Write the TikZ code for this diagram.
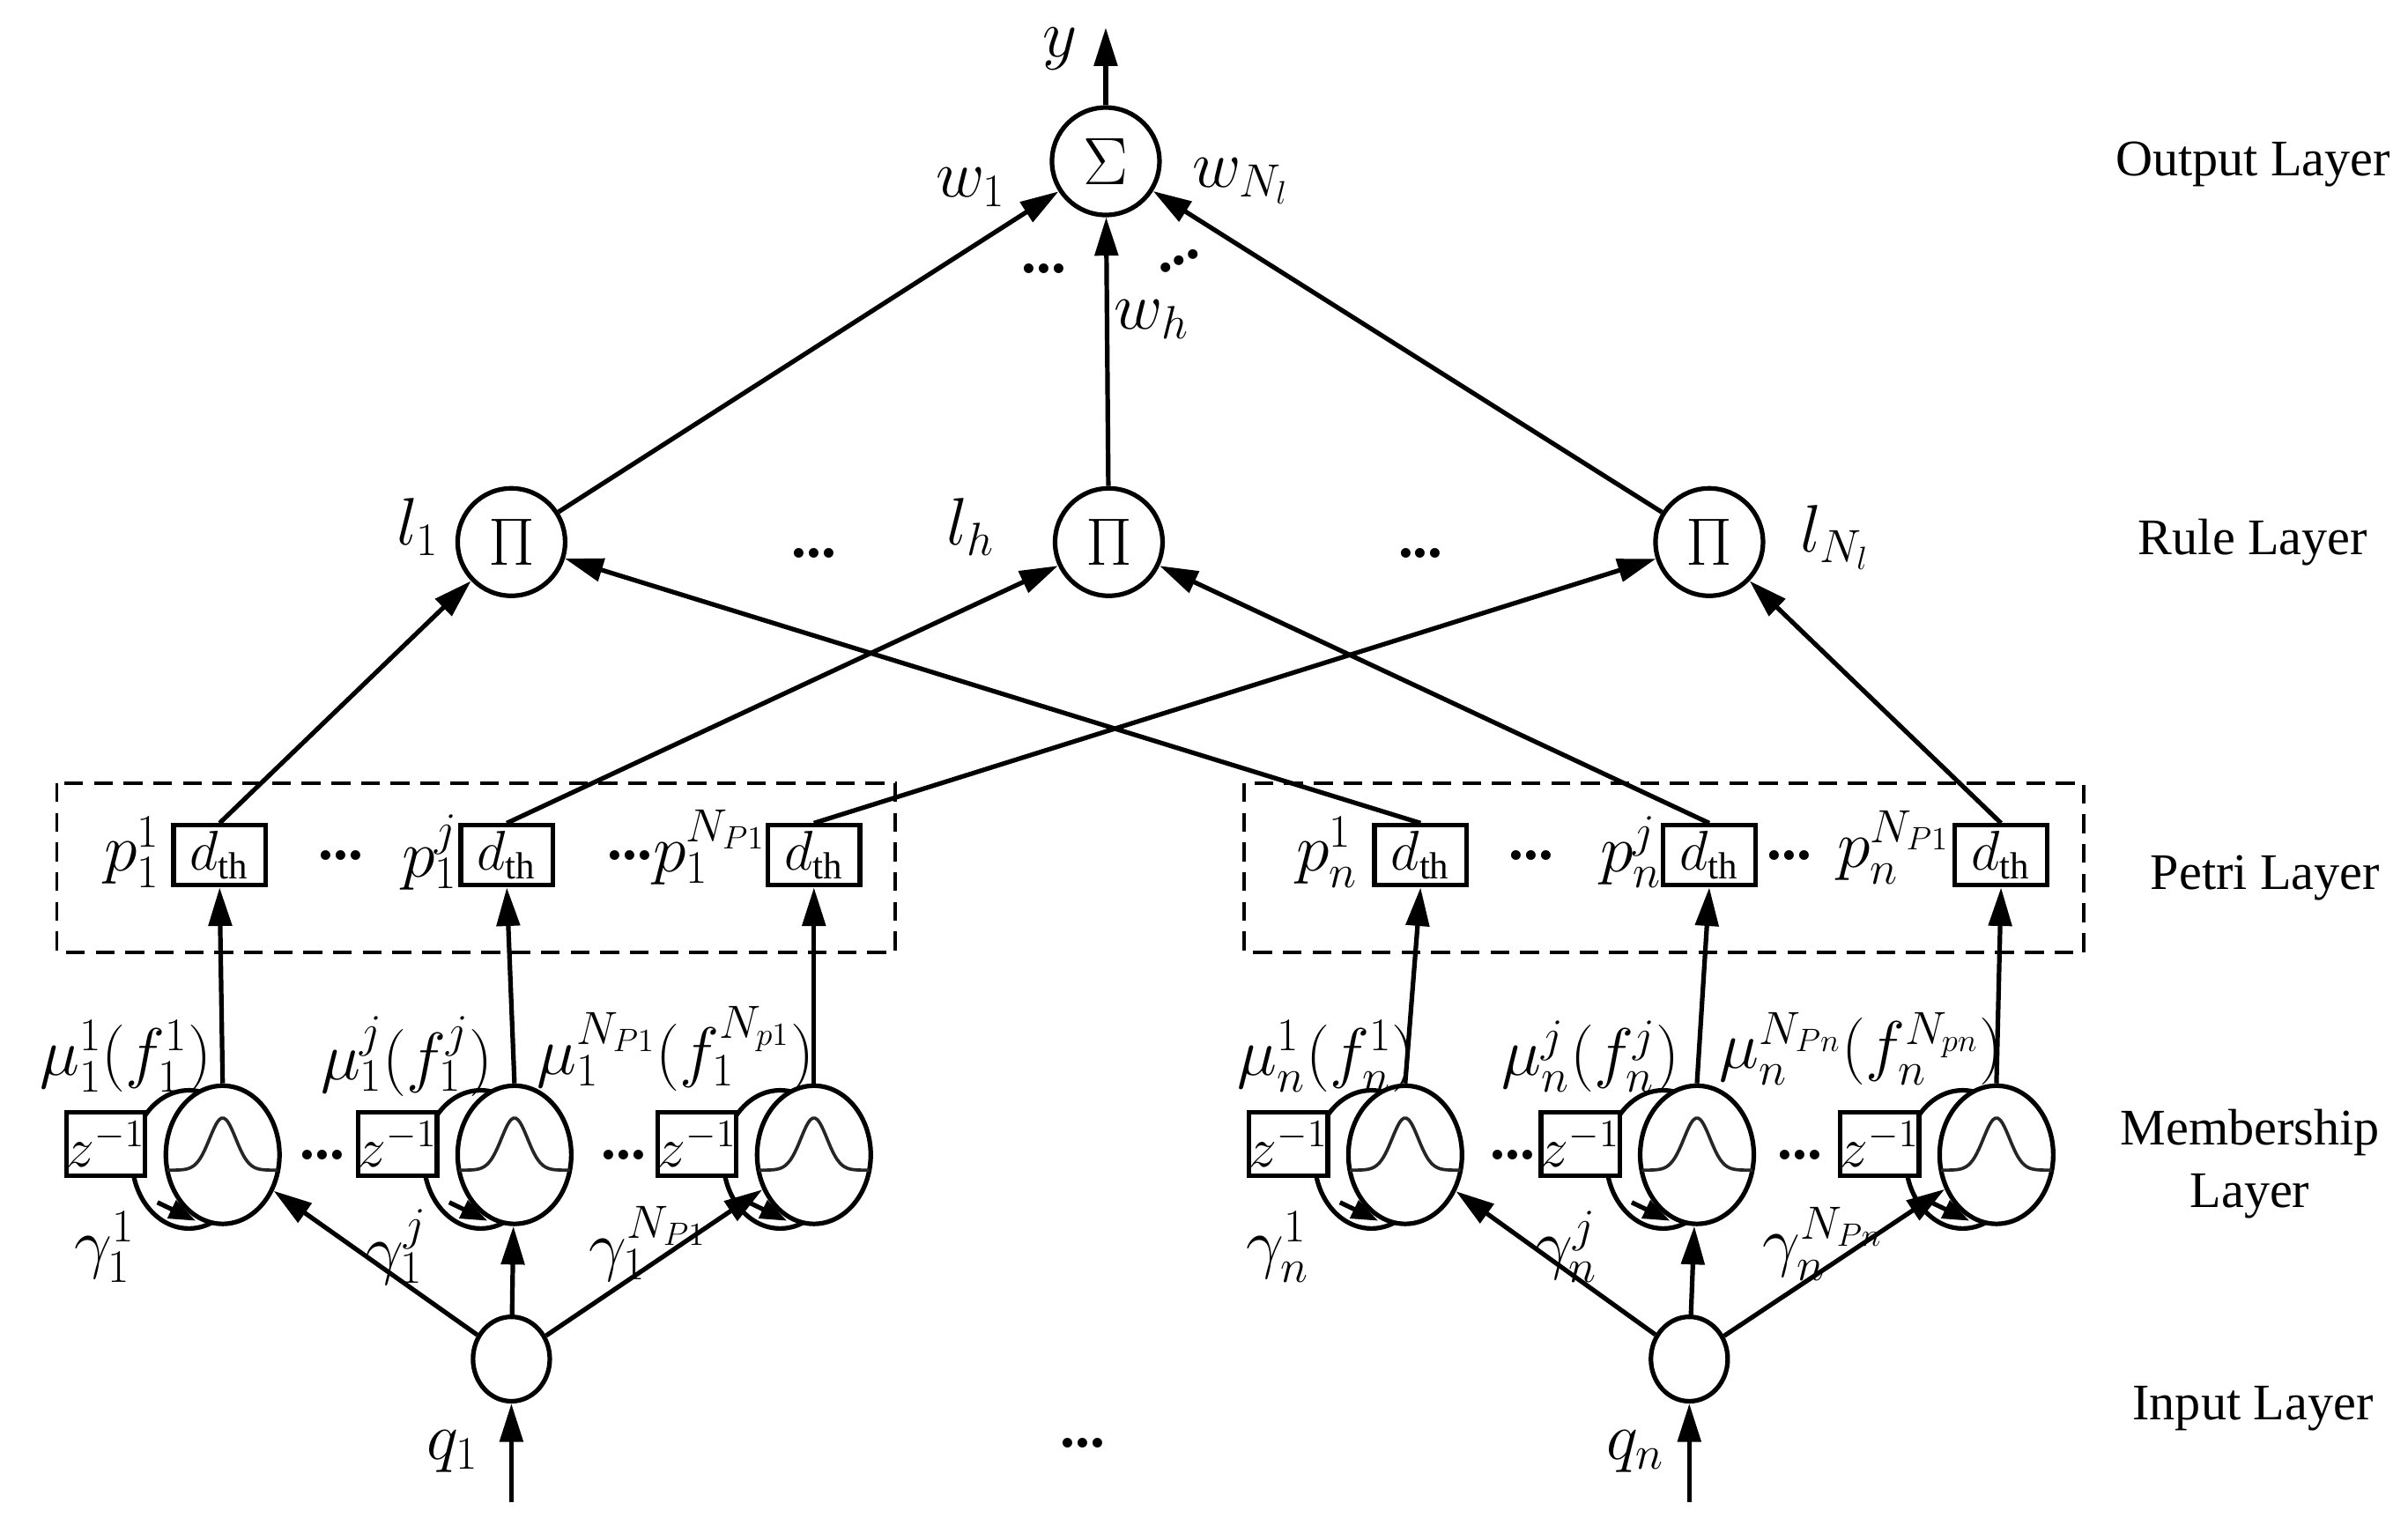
\documentclass[tikz,border=0pt]{standalone}
\usepackage{fontspec}
\setmainfont{Liberation Serif}
\usetikzlibrary{shapes.geometric,arrows.meta}
\begin{document}
\begin{tikzpicture}[x=0.02cm,y=-0.02cm,
  ln/.style={line width=1.7pt},
  ar/.style={ln,-{Triangle[length=0.5cm,width=0.3cm]}},
  circ/.style={circle,draw,line width=1.7pt,minimum size=1.4cm,inner sep=0pt,font=\fontsize{36}{36}\selectfont},
  dbox/.style={rectangle,draw,line width=1.7pt,minimum width=1.2cm,minimum height=0.78cm,inner sep=0pt,font=\fontsize{20}{20}\selectfont,fill=white},
  zbox/.style={rectangle,draw,line width=1.7pt,minimum width=0.88cm,minimum height=0.82cm,inner sep=0pt,font=\fontsize{22}{22}\selectfont,fill=white},
  mf/.style={ellipse,draw,line width=1.7pt,minimum width=1.48cm,minimum height=1.8cm,inner sep=0pt,fill=white},
  lab/.style={font=\fontsize{24}{26}\selectfont},
  lay/.style={font=\fontsize{19}{23}\selectfont,align=center},
  dots/.style={font=\fontsize{22}{22}\selectfont\bfseries,inner sep=1pt}]
\useasboundingbox (0,0) rectangle (1568,988);
% output
\node[circ] (S) at (720,105) {$\Sigma$};
\coordinate (yend) at (720,18);
\draw[ar] (S) -- (yend);
\node[lab] (ylab) at (690,32) {$y$};
\node[lab] (w1) at (632,122) {$w_1$};
\node[lab] (wN) at (808,118) {$w_{N_l}$};
\node[lab] (wh) at (750,208) {$w_h$};
\node[dots] (od1) at (680,175) {...};
\node[dots,rotate=25] (od2) at (768,170) {...};
% rule
\node[circ] (R1) at (333,353) {$\Pi$};
\node[circ] (Rh) at (722,353) {$\Pi$};
\node[circ] (RN) at (1113,353) {$\Pi$};
\node[lab] (l1) at (272,343) {$l_1$};
\node[lab] (lh) at (632,343) {$l_h$};
\node[lab] (lN) at (1195,350) {$l_{N_l}$};
\node[dots] (rd1) at (530,360) {...};
\node[dots] (rd2) at (925,360) {...};
\draw[ar] (R1) -- (S);
\draw[ar] (Rh) -- (S);
\draw[ar] (RN) -- (S);
% petri boxes
\draw[line width=1.3pt,dash pattern=on 7pt off 4pt] (37,510) rectangle (583,620);
\draw[line width=1.3pt,dash pattern=on 7pt off 4pt] (810,510) rectangle (1357,620);
\foreach \n/\x in {a1/143,aj/330,aN/530,b1/925,bj/1113,bN/1303}{
  \node[dbox] (D\n) at (\x,557) {$d_{\mathrm{th}}$};}
\node[lab] (pa1) at (86,555) {$p_1^1$};
\node[dots] (pd1) at (222,557) {...};
\node[lab] (paj) at (280,555) {$p_1^j$};
\node[dots] (pd2) at (410,557) {...};
\node[lab] (paN) at (462,552) {$p_1^{N_{P1}}$};
\node[lab] (pb1) at (864,555) {$p_n^1$};
\node[dots] (pd3) at (997,557) {...};
\node[lab] (pbj) at (1062,555) {$p_n^j$};
\node[dots] (pd4) at (1165,557) {...};
\node[lab] (pbN) at (1233,552) {$p_n^{N_{P1}}$};
\draw[ar] (Da1.north) -- (R1);
\draw[ar] (Daj.north) -- (Rh);
\draw[ar] (DaN.north) -- (RN);
\draw[ar] (Db1.north) -- (R1);
\draw[ar] (Dbj.north) -- (Rh);
\draw[ar] (DbN.north) -- (RN);
% membership
\foreach \n/\x in {a1/145,aj/335,aN/530,b1/915,bj/1105,bN/1300}{
  \node[mf] (B\n) at (\x-22,755) {};
  \node[zbox] (Z\n) at (\x-76,745) {$z^{-1}$};
  \node[mf] (M\n) at (\x,752) {};
  \draw[gray!30!black,line width=1.2pt,domain=-36:36,samples=50,smooth,variable=\t] plot ({\x+\t},{762-34*exp(-(\t/12)^2)});
  \draw[ar,-{Triangle[length=0.35cm,width=0.25cm]}] ([xshift=-0.85cm,yshift=-0.62cm]M\n.center) -- ([xshift=-0.35cm,yshift=-0.86cm]M\n.center);
}
\draw[ar] (Ma1.north) -- (Da1.south);
\draw[ar] (Maj.north) -- (Daj.south);
\draw[ar] (MaN.north) -- (DaN.south);
\draw[ar] (Mb1.north) -- (Db1.south);
\draw[ar] (Mbj.north) -- (Dbj.south);
\draw[ar] (MbN.north) -- (DbN.south);
\node[lab] (ma1) at (82,688) {$\mu_1^1(f_1^1)$};
\node[lab] (maj) at (265,688) {$\mu_1^j(f_1^j)$};
\node[lab] (maN) at (440,683) {$\mu_1^{N_{P1}}(f_1^{N_{p1}})$};
\node[lab] (mb1) at (864,688) {$\mu_n^1(f_n^1)$};
\node[lab] (mbj) at (1036,688) {$\mu_n^j(f_n^j)$};
\node[lab] (mbN) at (1212,683) {$\mu_n^{N_{Pn}}(f_n^{N_{pn}})$};
\node[lab] (ga1) at (68,812) {$\gamma_1^1$};
\node[lab] (gaj) at (258,812) {$\gamma_1^j$};
\node[lab] (gaN) at (422,810) {$\gamma_1^{N_{P1}}$};
\node[lab] (gb1) at (832,812) {$\gamma_n^1$};
\node[lab] (gbj) at (1020,812) {$\gamma_n^j$};
\node[lab] (gbN) at (1187,810) {$\gamma_n^{N_{Pn}}$};
\node[dots] (md1) at (210,752) {...};
\node[dots] (md2) at (406,752) {...};
\node[dots] (md3) at (985,752) {...};
\node[dots] (md4) at (1172,752) {...};
% input
\node[ellipse,draw,line width=1.7pt,minimum width=1cm,minimum height=1.1cm] (I1) at (333,885) {};
\node[ellipse,draw,line width=1.7pt,minimum width=1cm,minimum height=1.1cm] (In) at (1100,885) {};
\coordinate (q1s) at (333,978);
\coordinate (qns) at (1100,978);
\draw[ar] (q1s) -- (I1);
\draw[ar] (qns) -- (In);
\node[lab] (q1) at (295,945) {$q_1$};
\node[lab] (qn) at (1065,945) {$q_n$};
\node[dots] (id) at (705,940) {...};
\draw[ar] (I1) -- (Ma1);
\draw[ar] (I1) -- (Maj);
\draw[ar] (I1) -- (MaN);
\draw[ar] (In) -- (Mb1);
\draw[ar] (In) -- (Mbj);
\draw[ar] (In) -- (MbN);
% layer labels
\node[lay] (L1) at (1467,107) {Output Layer};
\node[lay] (L2) at (1467,353) {Rule Layer};
\node[lay] (L3) at (1475,572) {Petri Layer};
\node[lay] (L4) at (1465,758) {Membership\\Layer};
\node[lay] (L5) at (1467,917) {Input Layer};
\end{tikzpicture}
\end{document}
